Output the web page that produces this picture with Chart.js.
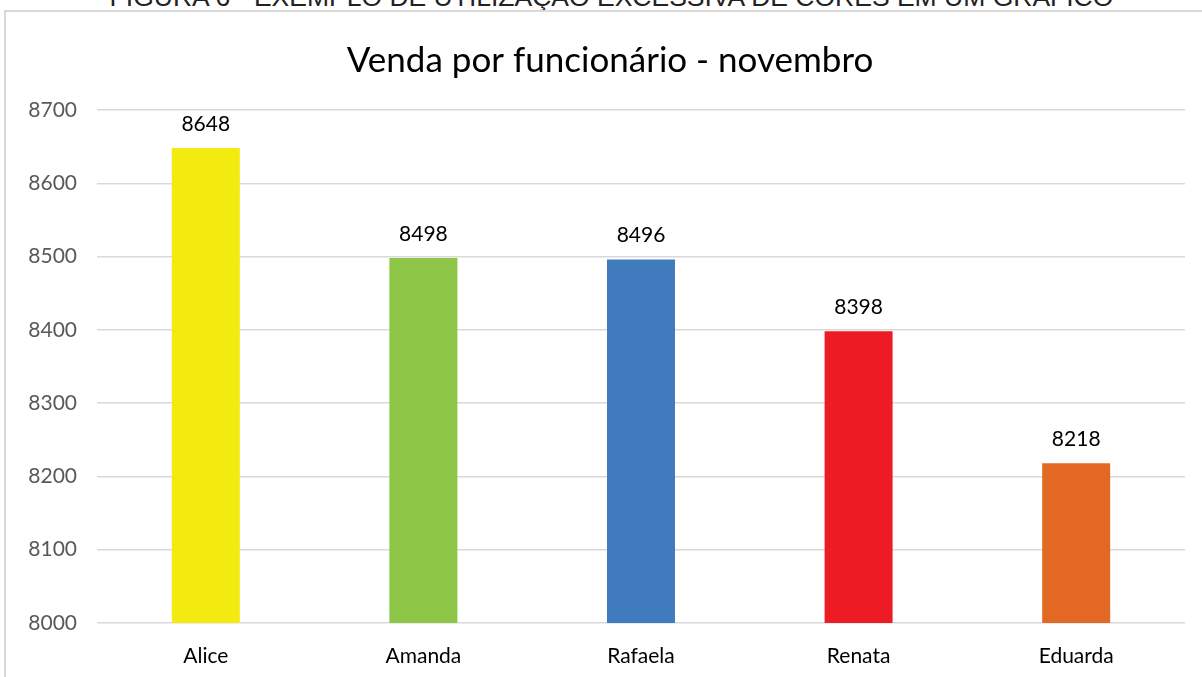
<!DOCTYPE html>
<html>
<head>
<meta charset="utf-8">
<script src="https://cdn.jsdelivr.net/npm/chart.js@4.4.0/dist/chart.umd.min.js"></script>
<style>
  body { margin: 0; background: #fff; overflow: hidden; }
  #caption {
    position: absolute; left: 0; width: 1223px; top: -18px;
    text-align: center; font-family: "Liberation Sans", Arial, sans-serif;
    font-size: 26.5px; color: #222;
  }
  #moldura {
    position: absolute; left: 4px; top: 10px; width: 1210px; height: 700px;
    border: 2px solid #d9d9d9;
  }
  #grafico { position: absolute; left: 0; top: 0; }
</style>
</head>
<body>
<div id="caption">FIGURA 6 - EXEMPLO DE UTILIZAÇÃO EXCESSIVA DE CORES EM UM GRÁFICO</div>
<div id="moldura"></div>
<canvas id="grafico" width="1220" height="677"></canvas>
<script>
const funcionarias = ['Alice', 'Amanda', 'Rafaela', 'Renata', 'Eduarda']
const vendas = [8648, 8498, 8496, 8398, 8218]
const cores = ['#F3EA10', '#8DC547', '#3F7BBD', '#ED1C24', '#E36824']
const eixoMin = 8000
const eixoMax = 8700

// desenha o valor em cima de cada barra
const rotulosBarras = {
  id: 'rotulosBarras',
  afterDatasetsDraw(chart) {
    const ctx = chart.ctx
    const meta = chart.getDatasetMeta(0)
    ctx.save()
    ctx.font = '21px Lato'
    ctx.fillStyle = '#000'
    ctx.textAlign = 'center'
    ctx.textBaseline = 'middle'
    meta.data.forEach((barra, i) => {
      ctx.fillText(vendas[i], barra.x, barra.y - 24)
    })
    ctx.restore()
  }
}

const ctxGrafico = document.getElementById('grafico')

new Chart(ctxGrafico, {
  type: 'bar',
  data: {
    labels: funcionarias,
    datasets: [{
      label: 'Vendas',
      data: vendas,
      backgroundColor: cores,
      barPercentage: 0.3125,
      categoryPercentage: 1
    }]
  },
  options: {
    responsive: false,
    animation: false,
    layout: { padding: 0 },
    plugins: {
      legend: { display: false },
      tooltip: { enabled: false },
      title: {
        display: true,
        text: 'Venda por funcionário - novembro',
        color: '#000',
        font: { family: 'Lato', size: 35, weight: 'normal' },
        padding: { top: 40, bottom: 28 }
      }
    },
    scales: {
      x: {
        grid: { display: false },
        border: { display: false },
        ticks: { color: '#000', font: { family: 'Lato', size: 21 }, padding: 13 },
        afterFit: (eixo) => { eixo.height = 54 }
      },
      y: {
        min: eixoMin,
        max: eixoMax,
        grid: { color: '#d9d9d9', lineWidth: 1.5, drawTicks: false },
        border: { display: false },
        ticks: {
          stepSize: 100,
          color: '#595959',
          font: { family: 'Lato', size: 21 },
          padding: 20,
          callback: (valor) => String(valor)
        },
        afterFit: (eixo) => { eixo.width = 97 }
      },
      // eixo vazio à direita só para reservar a margem
      margemDireita: {
        type: 'linear',
        position: 'right',
        min: 0,
        max: 1,
        grid: { display: false },
        border: { display: false },
        ticks: { display: false },
        afterFit: (eixo) => { eixo.width = 35 }
      }
    }
  },
  plugins: [rotulosBarras]
})
</script>
</body>
</html>
